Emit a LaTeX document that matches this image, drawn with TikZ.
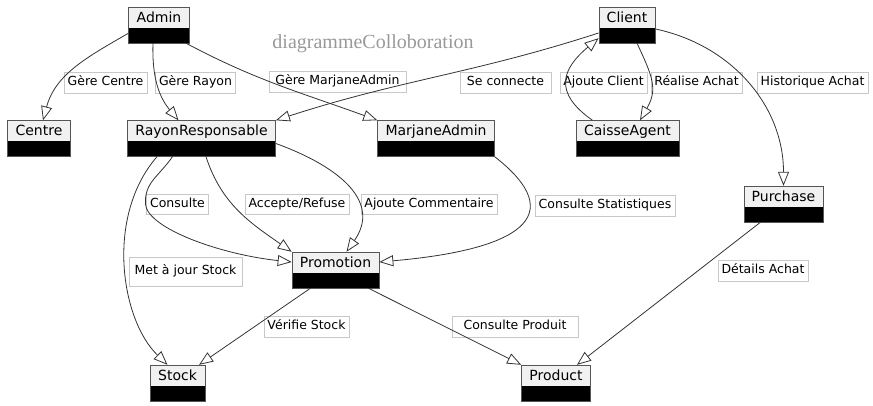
\documentclass[tikz,border=0pt]{standalone}
\usepackage{fontspec}
\setmainfont{DejaVu Sans}
\newfontfamily\titlefont{Liberation Serif}
\usetikzlibrary{arrows.meta}

\definecolor{headgray}{HTML}{F1F1F1}
\definecolor{boxline}{HTML}{555555}
\definecolor{lblline}{HTML}{C8C8C8}
\definecolor{edgegray}{HTML}{333333}
\definecolor{titlegray}{HTML}{999999}

\tikzset{
  classbox/.style={draw=boxline, fill=headgray, font=\fontsize{14}{16}\selectfont,
    inner xsep=8pt, inner ysep=3.5pt, text height=12pt, text depth=17pt,
    path picture={\fill[black] (path picture bounding box.south west) rectangle ([yshift=15pt]path picture bounding box.south east);}},
  lbl/.style={draw=lblline, font=\fontsize{12.5}{14}\selectfont,
    inner xsep=3.5pt, inner ysep=4pt, text height=9.5pt, text depth=3pt},
  link/.style={draw=edgegray, line width=0.8pt, -{Triangle[open,length=14pt,width=11pt]}},
}

\begin{document}
\begin{tikzpicture}[x=1pt, y=1pt]
    \useasboundingbox (0,0) rectangle (873,-406);

    % classes
    \node[classbox] (admin) at (159,-25) {Admin};
    \node[classbox] (centre) at (39,-138.5) {Centre};
    \node[classbox] (rayon) at (201.5,-138.5) {RayonResponsable};
    \node[classbox] (marjane) at (436,-138.5) {MarjaneAdmin};
    \node[classbox] (client) at (627,-25) {Client};
    \node[classbox] (caisse) at (627.5,-138.5) {CaisseAgent};
    \node[classbox] (purchase) at (783.5,-204) {Purchase};
    \node[classbox] (promotion) at (335.5,-270) {Promotion};
    \node[classbox] (stock) at (177.5,-383) {Stock};
    \node[classbox] (product) at (556,-383) {Product};

    \node[font=\titlefont\fontsize{20}{24}\selectfont, text=titlegray] (title) at (373,-43.5) {diagrammeColloboration};

    % labels
    \node[lbl] (lgc) at (105.5,-82.5) {Gère Centre};
    \node[lbl] (lgr) at (195.5,-82.5) {Gère Rayon};
    \node[lbl, minimum width=137pt] (lgm) at (337.5,-81.5) {Gère MarjaneAdmin};
    \node[lbl, minimum width=91pt] (lsc) at (505.5,-82.5) {Se connecte};
    \node[lbl] (lac) at (603.5,-82.5) {Ajoute Client};
    \node[lbl] (lra) at (696.5,-82.5) {Réalise Achat};
    \node[lbl] (lha) at (812.5,-82.5) {Historique Achat};
    \node[lbl] (lco) at (177.5,-204) {Consulte};
    \node[lbl] (lar) at (297,-204) {Accepte/Refuse};
    \node[lbl] (lacm) at (429,-204) {Ajoute Commentaire};
    \node[lbl] (lcs) at (605,-205.5) {Consulte Statistiques};
    \node[lbl, minimum width=113pt, minimum height=29pt] (lmj) at (185.5,-271.5) {Met à jour Stock};
    \node[lbl] (lvs) at (306.5,-326.5) {Vérifie Stock};
    \node[lbl, minimum width=126pt] (lcp) at (515,-326.5) {Consulte Produit};
    \node[lbl] (lda) at (763,-270.5) {Détails Achat};

    % links
    \draw[link] ([yshift=10pt]admin.south west) to[out=210,in=75] ([xshift=4pt]centre.north);
    \draw[link] ([xshift=-6pt]admin.south) to[out=268,in=130] ([xshift=-23pt]rayon.north);
    \draw[link] ([xshift=27pt]admin.south) to[out=-28,in=160] (marjane.north west);
    \draw[link] ([yshift=-8pt]client.west) to[out=198,in=18] (rayon.north east);
    \draw[link] ([xshift=-35pt]caisse.north) to[out=145,in=220,looseness=1.5] ([yshift=5pt]client.south west);
    \draw[link] ([xshift=10pt]client.south) to[out=-65,in=60,looseness=1.2] ([xshift=12.5pt]caisse.north);
    \draw[link] ([yshift=-4pt]client.east) to[out=-12,in=90] (purchase.north);
    \draw[link] ([xshift=-29pt]rayon.south) .. controls +(235:25) and +(92:22) .. ([xshift=-1pt]lco.west)
        .. controls +(275:25) and +(174:70) .. ([yshift=8pt]promotion.west);
    \draw[link] ([xshift=4.5pt]rayon.south) to[out=-72,in=145] (promotion.north west);
    \draw[link] ([yshift=-5pt]rayon.east) .. controls +(-20:70) and +(55:60) .. ([xshift=11pt]promotion.north);
    \draw[link] (marjane.south east) .. controls +(-38:97) and +(5:140) .. ([yshift=8pt]promotion.east);
    \draw[link] ([xshift=-44.5pt]rayon.south) .. controls +(229:79) and +(136:65) .. ([xshift=-10pt]stock.north);
    \draw[link] ([xshift=-25pt]promotion.south) -- ([xshift=-6pt]stock.north east);
    \draw[link] ([xshift=-11pt]promotion.south east) -- (product.north west);
    \draw[link] ([xshift=-23pt]purchase.south) -- ([xshift=21pt]product.north);
\end{tikzpicture}
\end{document}
